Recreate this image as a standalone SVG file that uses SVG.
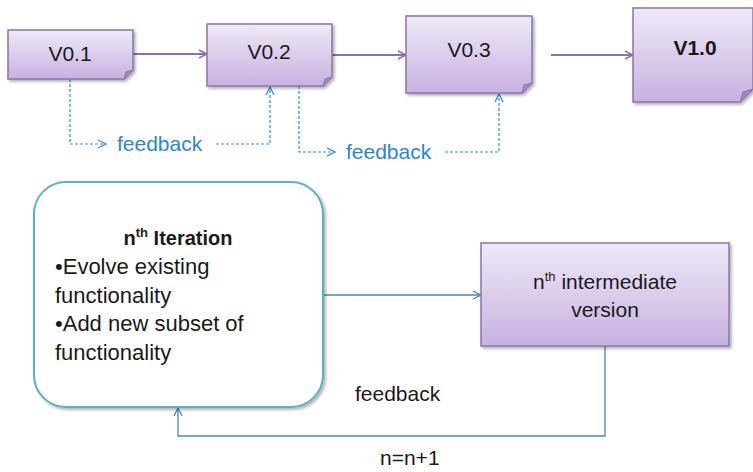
<svg xmlns="http://www.w3.org/2000/svg" width="753" height="472" viewBox="0 0 753 472">
<defs>
<linearGradient id="pg" x1="0" y1="0" x2="0" y2="1">
<stop offset="0" stop-color="#efe9f7"/>
<stop offset="1" stop-color="#c7b2e0"/>
</linearGradient>
<filter id="sh" x="-10%" y="-10%" width="130%" height="130%">
<feDropShadow dx="2" dy="2" stdDeviation="1.5" flood-color="#000" flood-opacity="0.3"/>
</filter>
<marker id="ap" viewBox="0 0 10 10" refX="9" refY="5" markerWidth="10" markerHeight="10" markerUnits="userSpaceOnUse" orient="auto">
<path d="M1,1 L9,5 L1,9" fill="none" stroke="#8a6fa8" stroke-width="1.5"/>
</marker>
<marker id="ab" viewBox="0 0 10 10" refX="9" refY="5" markerWidth="10" markerHeight="10" markerUnits="userSpaceOnUse" orient="auto">
<path d="M1,1 L9,5 L1,9" fill="none" stroke="#3a8ac8" stroke-width="1.3"/>
</marker>
<marker id="al" viewBox="0 0 10 10" refX="9" refY="5" markerWidth="10" markerHeight="10" markerUnits="userSpaceOnUse" orient="auto">
<path d="M1,1 L9,5 L1,9" fill="none" stroke="#4f81bd" stroke-width="1.3"/>
</marker>
</defs>
<style>
.note{fill:url(#pg);stroke:#8b74ab;stroke-width:1.5;filter:url(#sh)}
.fold{fill:#a48ac4;stroke:#8b74ab;stroke-width:1}
.t{font-family:"Liberation Sans",Arial,sans-serif;fill:#1a1a1a}
.v{font-size:21px;text-anchor:middle}
.fb{font-family:"Liberation Sans",Arial,sans-serif;font-size:21px;fill:#2f86c6}
.pl{fill:none;stroke:#8a6fa8;stroke-width:1.8;marker-end:url(#ap)}
.dl{fill:none;stroke:#3a8ac8;stroke-width:1.2;stroke-dasharray:3,2}
.bl{fill:none;stroke:#4f81bd;stroke-width:1.3}
</style>

<g id="connectors">
<path class="pl" d="M133,54 H207"/>
<path class="pl" d="M332,55 H406"/>
<path class="pl" d="M551,55 H633"/>
<path class="dl" d="M70,79 V144 H106" marker-end="url(#ab)"/>
<path class="dl" d="M216,144 H270 V87" marker-end="url(#ab)"/>
<path class="dl" d="M299,86 V152 H335" marker-end="url(#ab)"/>
<path class="dl" d="M445,152 H499 V94" marker-end="url(#ab)"/>
<path class="bl" d="M323,295 H481" marker-end="url(#al)"/>
<path class="bl" d="M605,346 V436 H178 V408" marker-end="url(#al)"/>
</g>

<g id="v01">
<path class="note" d="M8,30 H133 V70 L124,79 H8 Z"/>
<path class="fold" d="M133,70 L126,72 L124,79 Z"/>
<text class="t v" x="70" y="61">V0.1</text>
</g>
<g id="v02">
<path class="note" d="M207,24 H332 V77 L323,86 H207 Z"/>
<path class="fold" d="M332,77 L325,79 L323,86 Z"/>
<text class="t v" x="269" y="59">V0.2</text>
</g>
<g id="v03">
<path class="note" d="M406,16 H532 V83 L522,93 H406 Z"/>
<path class="fold" d="M532,83 L524,85 L522,93 Z"/>
<text class="t v" x="469" y="57">V0.3</text>
</g>
<g id="v10">
<path class="note" d="M633,8 H753 V89 L740,102 H633 Z"/>
<path class="fold" d="M753,89 L743,92 L740,102 Z"/>
<text class="t v" x="695" y="55" font-weight="bold">V1.0</text>
</g>

<g id="fb1"><text class="fb" x="117" y="151">feedback</text></g>
<g id="fb2"><text class="fb" x="346" y="159">feedback</text></g>

<g id="iteration">
<rect x="34" y="182" width="289" height="225" rx="32" ry="32" fill="#fff" stroke="#5cb0c6" stroke-width="2" filter="url(#sh)"/>
<text class="t" x="178" y="245" font-size="20" font-weight="bold" text-anchor="middle">n<tspan font-size="13" dy="-8">th</tspan><tspan dy="8"> Iteration</tspan></text>
<text class="t" font-size="22" x="55" y="274">•Evolve existing</text>
<text class="t" font-size="22" x="55" y="303">functionality</text>
<text class="t" font-size="22" x="55" y="331">•Add new subset of</text>
<text class="t" font-size="22" x="55" y="360">functionality</text>
</g>

<g id="intermediate">
<rect x="481" y="243" width="248" height="103" fill="url(#pg)" stroke="#8b74ab" stroke-width="1.5" filter="url(#sh)"/>
<text class="t" x="605" y="289" font-size="21" text-anchor="middle">n<tspan font-size="13" dy="-8">th</tspan><tspan dy="8"> intermediate</tspan></text>
<text class="t" x="605" y="317" font-size="21" text-anchor="middle">version</text>
</g>

<g id="labels">
<text class="t" x="355" y="401" font-size="21">feedback</text>
<text class="t" x="380" y="465" font-size="21">n=n+1</text>
</g>
</svg>
